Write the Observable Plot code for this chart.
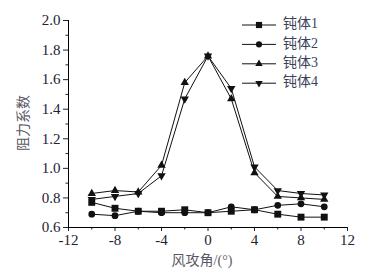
<!DOCTYPE html>
<html><head><meta charset="utf-8">
<script src="https://cdn.jsdelivr.net/npm/d3@7"></script>
<script src="https://cdn.jsdelivr.net/npm/@observablehq/plot@0.6"></script>
<style>body{margin:0;background:#fff}#chart{width:375px;height:278px}
#chart svg text{font-family:"Liberation Serif","Noto Sans CJK SC",serif !important}</style>
</head><body><div id="chart"></div>
<script>
const angles = [-10,-8,-6,-4,-2,0,2,4,6,8,10];
const body1 = [0.77,0.73,0.71,0.71,0.72,0.70,0.71,0.72,0.69,0.67,0.67];
const body2 = [0.69,0.68,0.71,0.70,0.70,0.70,0.74,0.72,0.75,0.76,0.74];
const body3 = [0.83,0.85,0.84,1.02,1.58,1.76,1.47,0.97,0.81,0.80,0.79];
const body4 = [0.79,0.81,0.83,0.95,1.47,1.76,1.54,1.01,0.85,0.83,0.82];
const seriesNames = ["钝体1","钝体2","钝体3","钝体4"];
const xTicks = [-12,-8,-4,0,4,8,12];
const xMinorTicks = [-10,-6,-2,2,6,10];
const yTicks = [0.6,0.8,1.0,1.2,1.4,1.6,1.8,2.0];
const yMinorTicks = [0.7,0.9,1.1,1.3,1.5,1.7,1.9];
const xTitle = "风攻角/(°)";
const yTitle = "阻力系数";

const triDown = {
  draw(ctx, size) {
    const y = -Math.sqrt(size / (Math.sqrt(3) * 3));
    ctx.moveTo(0, -y * 2);
    ctx.lineTo(-Math.sqrt(3) * y, y);
    ctx.lineTo(Math.sqrt(3) * y, y);
    ctx.closePath();
  }
};
const symbols = ["square", "circle", "triangle", triDown];
const radii = [3.9, 3.4, 3.1, 3.1];
const allSeries = [body1, body2, body3, body4];
const table = allSeries.map((vals, s) => angles.map((a, i) => ({angle: a, cd: vals[i], name: seriesNames[s]})));

const marks = [
  Plot.axisX({ticks: xMinorTicks, tickSize: 2.5, tickFormat: () => "", label: null}),
  Plot.axisX({ticks: xTicks, tickSize: 4, tickPadding: 3, fontSize: 15, tickFormat: d => (d < 0 ? "-" + Math.abs(d) : String(d)), label: null}),
  Plot.axisY({ticks: yMinorTicks, tickSize: 2.5, tickFormat: () => "", label: null}),
  Plot.axisY({ticks: yTicks, tickSize: 5, tickPadding: 3, fontSize: 15, tickFormat: d => d.toFixed(1), label: null}),
  Plot.ruleX([-12], {stroke: "#000", strokeWidth: 1}),
  Plot.ruleY([0.6], {stroke: "#000", strokeWidth: 1})
];
table.forEach((rows, s) => {
  marks.push(Plot.line(rows, {x: "angle", y: "cd", stroke: "#111", strokeWidth: 1}));
});
table.forEach((rows, s) => {
  marks.push(Plot.dot(rows, {x: "angle", y: "cd", symbol: () => symbols[s], r: radii[s], fill: "#111", stroke: "none"}));
});

const chart = Plot.plot({
  width: 375, height: 278,
  marginLeft: 68, marginRight: 28, marginTop: 20, marginBottom: 51,
  x: {domain: [-12, 12]},
  y: {domain: [0.6, 2.0]},
  symbol: {type: "identity"},
  style: {fontSize: "15px", color: "#1e2233", background: "#fff"},
  marks
});
document.getElementById("chart").appendChild(chart);

const svg = d3.select(chart);
// axis titles
svg.append("text").attr("x", 202).attr("y", 262).attr("text-anchor", "middle").attr("dominant-baseline", "middle")
  .attr("font-size", 14).attr("fill", "#5a5a66").text(xTitle);
svg.append("text").attr("transform", "translate(25,123) rotate(-90)").attr("text-anchor", "middle").attr("dominant-baseline", "middle")
  .attr("font-size", 14).attr("fill", "#5a5a66").text(yTitle);
// legend
const lg = svg.append("g");
seriesNames.forEach((name, i) => {
  const y = 25 + i * 19.4;
  lg.append("line").attr("x1", 242).attr("x2", 276).attr("y1", y).attr("y2", y).attr("stroke", "#111");
  const sym = symbols[i] === triDown ? triDown : {square: d3.symbolSquare, circle: d3.symbolCircle, triangle: d3.symbolTriangle}[symbols[i]];
  lg.append("path").attr("transform", `translate(259,${y})`).attr("d", d3.symbol(sym, Math.PI * radii[i] * radii[i] * 0.8)()).attr("fill", "#111");
  lg.append("text").attr("x", 283).attr("y", y).attr("text-anchor", "start").attr("dominant-baseline", "middle")
    .attr("font-size", 14).attr("fill", "#3b4258").text(name);
});
</script>
</body></html>
